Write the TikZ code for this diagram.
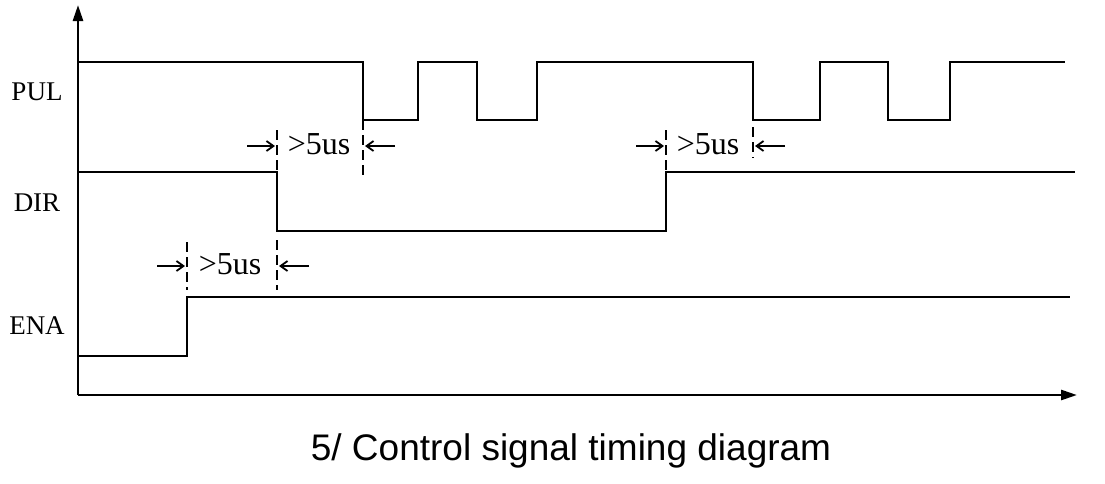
\documentclass[tikz,border=0pt]{standalone}
\usepackage{fontspec}
\setmainfont{Liberation Serif}
\newfontfamily\capfont{Liberation Sans}
\usetikzlibrary{arrows.meta}
\begin{document}
\begin{tikzpicture}[x=1pt,y=-1pt,
  sig/.style={line width=2.6pt},
  ax/.style={line width=2.6pt,-{Triangle[length=16pt,width=10pt]}},
  tmark/.style={line width=2.2pt,dash pattern=on 10pt off 5pt},
  dim/.style={line width=1.8pt,-{Straight Barb[length=7pt,width=10pt]}},
  lbl/.style={font=\fontsize{27}{28}\selectfont},
  dl/.style={font=\fontsize{32}{33}\selectfont,inner sep=1pt}]
\useasboundingbox (0,0) rectangle (1105,483);
\coordinate (o) at (78,395);
\coordinate (ytop) at (78,5);
\coordinate (xend) at (1077,395);
\draw[ax] (o) -- (ytop);
\draw[ax] (o) -- (xend);
\node[lbl] (pul) at (37,92) {PUL};
\node[lbl] (dir) at (37,203) {DIR};
\node[lbl] (ena) at (37,326) {ENA};
\draw[sig] (78,62) -- (363,62) -- (363,120) -- (418,120) -- (418,62) -- (477,62) -- (477,120) -- (537,120) -- (537,62) -- (753,62) -- (753,120) -- (820,120) -- (820,62) -- (888,62) -- (888,120) -- (950,120) -- (950,62) -- (1065,62);
\draw[sig] (78,172) -- (277,172) -- (277,231) -- (666,231) -- (666,172) -- (1075,172);
\draw[sig] (78,356) -- (187,356) -- (187,297) -- (1070,297);
% markers
\draw[tmark] (277,130) -- (277,172);
\draw[tmark] (363,120) -- (363,178);
\draw[tmark] (187,242) -- (187,290);
\draw[tmark] (277,240) -- (277,290);
\draw[tmark] (666,130) -- (666,172);
\draw[tmark] (753,127) -- (753,158);
\node[dl] (t1) at (319,144) {>5us};
\node[dl] (t2) at (230,264) {>5us};
\node[dl] (t3) at (708,144) {>5us};
\coordinate (a1) at (247,146); \coordinate (b1) at (275,146);
\coordinate (c1) at (395,146); \coordinate (d1) at (365,146);
\draw[dim] (a1) -- (b1); \draw[dim] (c1) -- (d1);
\coordinate (a2) at (157,266); \coordinate (b2) at (185,266);
\coordinate (c2) at (309,266); \coordinate (d2) at (279,266);
\draw[dim] (a2) -- (b2); \draw[dim] (c2) -- (d2);
\coordinate (a3) at (636,146); \coordinate (b3) at (664,146);
\coordinate (c3) at (785,146); \coordinate (d3) at (755,146);
\draw[dim] (a3) -- (b3); \draw[dim] (c3) -- (d3);
\node[font=\capfont\fontsize{37}{39}\selectfont] (cap) at (571,451) {5/ Control signal timing diagram};
\end{tikzpicture}
\end{document}
